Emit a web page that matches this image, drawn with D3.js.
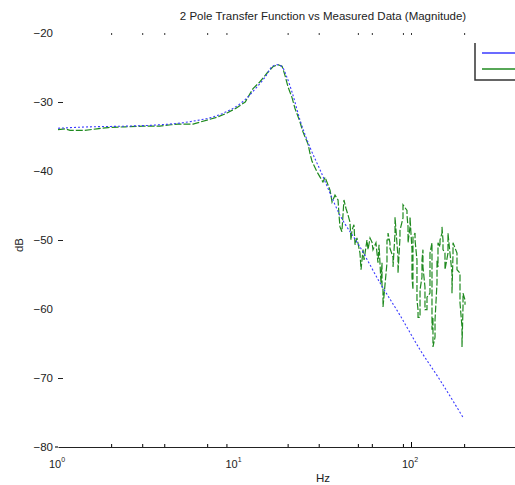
<!DOCTYPE html>
<html>
<head>
<meta charset="utf-8">
<script src="https://cdn.jsdelivr.net/npm/d3@7"></script>
<style>
body { margin: 0; background: #fff; }
text { font-family: "Liberation Sans", Arial, sans-serif; fill: #222; }
</style>
</head>
<body>
<div id="chart"></div>
<script>
// 2 pole model curve
const modelHz = [1.00, 1.52, 2.40, 3.78, 5.11, 6.37, 7.26, 8.84, 10.7, 12.2, 13.1, 14.9, 16.3, 17.4, 18.6, 19.8, 21.2, 23.5, 26.8, 30.5, 39.6, 51.4, 66.7, 86.6, 112.5, 146, 197];
const modelDb = [-33.8, -33.6, -33.5, -33.3, -33.0, -32.6, -32.3, -31.5, -30.3, -29.0, -28.1, -26.4, -24.9, -24.6, -24.9, -26.4, -28.6, -32.6, -36.6, -39.8, -46.4, -51.0, -56.2, -60.9, -65.9, -70.3, -75.7];

// measured data
const measHz = [1.00, 1.10, 1.17, 1.42, 1.66, 1.92, 2.40, 3.03, 3.78, 4.37, 4.78, 5.82, 7.26, 7.96, 9.07, 10.2, 11.5, 12.7, 13.9, 15.3, 16.5, 17.6, 18.6, 19.3, 20.1, 21.2, 22.0, 23.5, 24.4, 26.1, 26.8, 27.5, 29.3,
  31.7, 32.6, 34.8, 35.7, 37.1, 38.6, 39.1, 39.6, 40.6, 41.7, 42.8, 44.0, 45.1, 45.7, 46.3, 47.5, 48.2, 49.4, 51.4, 52.1, 53.5, 54.2, 56.3, 57.1, 58.6, 60.1, 60.9, 63.3, 65.0, 65.9, 67.6,
  68.5, 68.5, 69.4, 69.4, 73.1, 73.1, 74.1, 74.1, 76.0, 76.0, 79.1, 79.1, 81.2, 81.2, 84.4, 84.4, 86.6, 86.6, 90.1, 90.1, 94.9, 94.9, 96.2, 96.2, 98.7, 98.7,
  101.3, 101.3, 102.6, 102.6, 105.4, 105.4, 108.1, 108.1, 109.6, 109.6, 112.5, 112.5, 115.4, 115.4, 116.9, 116.9, 120.0, 120.0, 123.2, 123.2, 128.1, 128.1,
  131.5, 131.5, 133.2, 133.2, 136.8, 136.8, 140.4, 140.4, 142.2, 142.2, 146.0, 146.0, 149.8, 149.8, 151.8, 151.8, 155.8, 155.8, 162.0, 162.0,
  170.7, 170.7, 173.0, 173.0, 182.2, 182.2, 189.5, 189.5, 194.5, 194.5, 197.1, 197.1, 202.3, 202.3];
const measDb = [-34.0, -33.9, -34.1, -34.1, -33.9, -33.7, -33.6, -33.5, -33.5, -33.3, -33.2, -33.2, -32.5, -32.2, -31.6, -30.9, -30.0, -28.1, -27.1, -25.8, -24.9, -24.6, -24.8, -26.1, -27.8, -29.4, -30.9, -32.9, -34.3, -36.1, -37.5, -38.6, -40.1,
  -41.6, -40.9, -42.8, -44.5, -43.5, -44.2, -46.4, -48.1, -48.8, -44.2, -45.4, -46.4, -47.4, -50.0, -48.6, -47.8, -50.7, -49.7, -51.9, -54.3, -51.4, -52.9, -50.0, -51.4, -49.7, -50.3, -51.4, -50.4, -53.3, -50.7, -56.2,
  -53.3, -56.8, -56.8, -59.7, -53.3, -50.0, -50.0, -49.0, -50.4, -51.2, -52.5, -53.9, -49.0, -46.7, -52.5, -54.8, -49.7, -48.6, -46.8, -44.9, -45.7, -46.4, -48.1, -50.4, -48.1, -46.7,
  -51.4, -55.4, -57.2, -49.6, -49.0, -50.0, -52.9, -58.7, -60.1, -61.2, -61.2, -57.2, -55.4, -52.9, -51.4, -53.9, -56.8, -60.1, -60.1, -58.3, -57.7, -51.9,
  -50.4, -63.0, -61.2, -65.5, -64.1, -61.6, -56.2, -52.9, -53.9, -50.4, -51.0, -50.0, -49.0, -48.1, -50.0, -51.4, -51.9, -54.3, -51.9, -49.0,
  -54.8, -57.7, -51.9, -50.4, -51.9, -54.3, -54.8, -59.1, -62.6, -65.5, -59.7, -57.7, -58.7, -59.4];

const yTicks = [-80, -70, -60, -50, -40, -30, -20];
const yMarked = [-70, -50, -30];
const xMinor = [2, 3, 4, 7, 9, 20, 30, 50, 60, 90, 200];
const xTall = [100];
const xMajor = [1, 10, 100];
const xMajorExp = ['0', '1', '2'];

const width = 515, height = 485;
const plotLeft = 58, plotTop = 33, plotBottom = 447, decade = 176.5;

const svg = d3.select('#chart')
              .append('svg')
              .attr('width', width)
              .attr('height', height);

let x = d3.scaleLog().domain([1, 1000]).range([plotLeft, plotLeft + 3 * decade]);
let y = d3.scaleLinear().domain([-80, -20]).range([plotBottom, plotTop]);

// bottom axis, ticks point up into the plot
let xAxisMinor = d3.axisBottom(x).tickValues(xMinor).tickSize(-3).tickSizeOuter(0).tickFormat('');
let xAxisTall = d3.axisBottom(x).tickValues(xTall).tickSize(-5).tickSizeOuter(0).tickFormat('');

let gx = svg.append('g').attr('transform', 'translate(0,' + plotBottom + ')').call(xAxisMinor);
let gx2 = svg.append('g').attr('transform', 'translate(0,' + plotBottom + ')').call(xAxisTall);
gx2.select('.domain').remove();
gx.select('.domain').attr('stroke', '#222').attr('stroke-width', 1.2);
svg.append('line')
   .attr('x1', plotLeft - 3).attr('x2', plotLeft)
   .attr('y1', plotBottom).attr('y2', plotBottom)
   .attr('stroke', '#222').attr('stroke-width', 1.2);

// top ticks only
let gTop = svg.append('g').attr('transform', 'translate(0,' + plotTop + ')')
              .call(d3.axisTop(x).tickValues(xMinor.concat(xTall)).tickSize(-2).tickSizeOuter(0).tickFormat(''));
gTop.select('.domain').remove();
gTop.selectAll('line').attr('stroke', '#333');

svg.selectAll('.xlab')
   .data(xMajor)
   .enter()
   .append('text')
   .attr('class', 'xlab')
   .attr('x', d => x(d) - 1)
   .attr('y', 468)
   .style('text-anchor', 'middle')
   .style('font-size', '11px')
   .each(function(d, i) {
       d3.select(this).append('tspan').text('10');
       d3.select(this).append('tspan').attr('dy', -6).style('font-size', '7px').text(xMajorExp[i]);
   });

// y labels
let gy = svg.append('g').attr('transform', 'translate(55,0)')
            .call(d3.axisLeft(y).tickValues(yTicks).tickSize(0).tickPadding(2));
gy.select('.domain').remove();
gy.selectAll('text').style('font-size', '11.5px').style('font-family', '"Liberation Sans", Arial, sans-serif').attr('fill', '#222');

let gyMarks = svg.append('g').attr('transform', 'translate(' + plotLeft + ',0)')
                 .call(d3.axisRight(y).tickValues(yMarked).tickSize(5).tickFormat(''));
gyMarks.select('.domain').remove();
gyMarks.selectAll('line').attr('stroke', '#222');

svg.append('text')
   .attr('x', 323)
   .attr('y', 20)
   .style('text-anchor', 'middle')
   .style('font-size', '11.5px')
   .text('2 Pole Transfer Function vs Measured Data (Magnitude)');

svg.append('text')
   .attr('x', 323)
   .attr('y', 482)
   .style('text-anchor', 'middle')
   .style('font-size', '11.5px')
   .text('Hz');

svg.append('text')
   .attr('transform', 'translate(23,245) rotate(-90)')
   .style('text-anchor', 'middle')
   .style('font-size', '11.5px')
   .text('dB');

let line = d3.line().x(d => x(d[0])).y(d => y(d[1]));

let meas = measHz.map((h, i) => [h, measDb[i]]);
let model = modelHz.map((h, i) => [h, modelDb[i]]);

svg.append('path')
   .datum(meas)
   .attr('d', line)
   .attr('fill', 'none')
   .attr('stroke', '#1f8a1f')
   .attr('stroke-width', 1.2)
   .attr('stroke-dasharray', '7,2');

svg.append('path')
   .datum(model)
   .attr('d', line.curve(d3.curveMonotoneX))
   .attr('fill', 'none')
   .attr('stroke', '#3a3aff')
   .attr('stroke-width', 1.1)
   .attr('stroke-dasharray', '2,2');

// legend (cut off at the right edge)
const legendColors = ['#3a3aff', '#1f8a1f'];
const legendY = [53, 69];
svg.append('path')
   .attr('d', 'M475,43V80H515')
   .attr('fill', 'none')
   .attr('stroke', '#333')
   .attr('stroke-width', 1.5);
svg.selectAll('.leg')
   .data(legendColors)
   .enter()
   .append('line')
   .attr('class', 'leg')
   .attr('x1', 482).attr('x2', 515)
   .attr('y1', (d, i) => legendY[i]).attr('y2', (d, i) => legendY[i])
   .attr('stroke', d => d)
   .attr('stroke-width', 1.3);
</script>
</body>
</html>
